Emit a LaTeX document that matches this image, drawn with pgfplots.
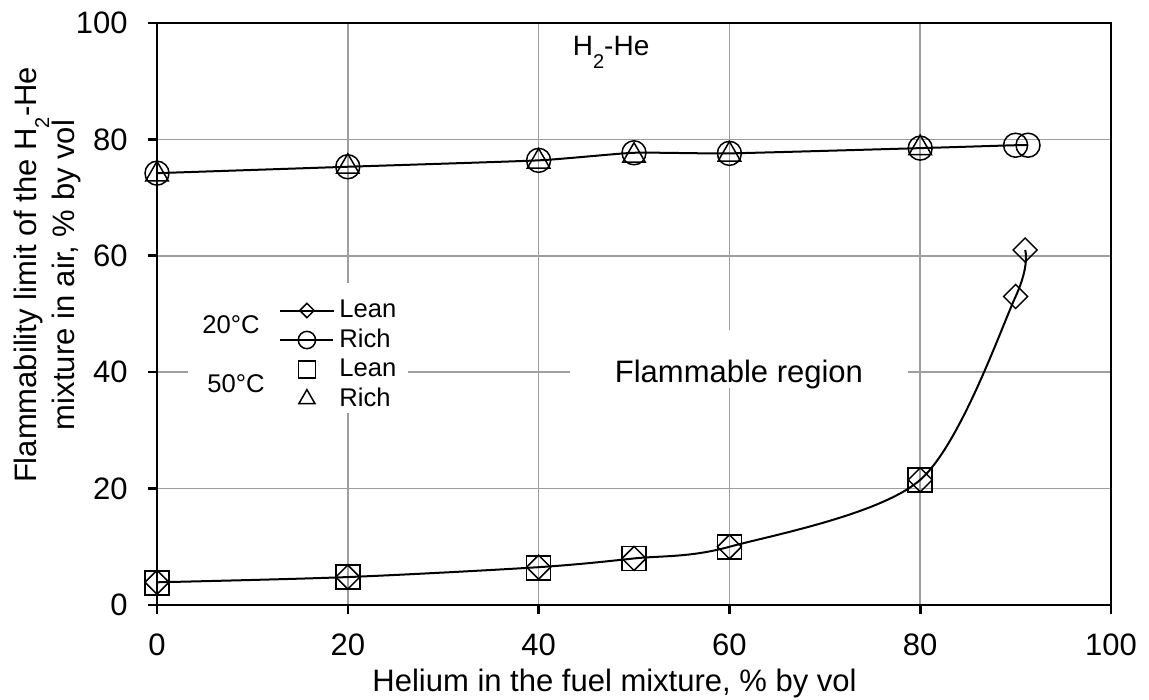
\documentclass[border=0pt]{standalone}
\usepackage{fontspec}
\setmainfont{Liberation Sans}
\usepackage{pgfplots}
\pgfplotsset{compat=1.18}
\newcommand{\subtwo}{\raisebox{-6.5pt}{\fontsize{10}{10}\selectfont 2}}
\begin{document}
\begin{tikzpicture}
\path[use as bounding box] (-78.5pt,-47.5pt) rectangle (496pt,302.5pt);
\begin{axis}[
  at={(0pt,0pt)}, anchor=south west,
  scale only axis, width=477pt, height=291pt,
  xmin=0, xmax=100, ymin=0, ymax=100,
  xtick={0,20,...,100}, ytick={0,20,...,100},
  tick align=outside, xtick pos=bottom, ytick pos=left,
  major tick length=4.5pt,
  grid=major, major grid style={draw=black!38, line width=0.85pt},
  axis line style={line width=1.3pt},
  major tick style={line width=1.3pt, black},
  /pgf/number format/assume math mode=true,
  ticklabel style={font=\fontsize{15.5}{15.5}\selectfont},
  yticklabel style={anchor=east, inner sep=0pt, xshift=-10pt},
  xticklabel style={anchor=base, inner sep=0pt, yshift=-20.5pt},
  xlabel={Helium in the fuel mixture, \% by vol},
  xlabel style={at={(axis description cs:0.4796,-0.1478)}, anchor=base, inner sep=0pt, font=\fontsize{15.5}{15.5}\selectfont},
  ylabel={Flammability limit of the H\subtwo-He\\mixture in air, \% by vol},
  ylabel style={at={(axis description cs:-0.1153,0.567)}, anchor=center, align=center, inner sep=0pt, font=\fontsize{15.5}{19}\selectfont},
  legend style={at={(axis description cs:0.1279,0.529)}, anchor=north west, draw=none, fill=none, inner sep=0pt,
    font=\fontsize{12.8}{12.8}\selectfont, row sep=1.75pt, column sep=2.5pt,
    nodes={inner sep=0pt, text height=10pt, text depth=3pt}},
  legend cell align=left,
  legend image code/.code={\draw[mark repeat=2,mark phase=2,#1, every mark/.append style={scale=0.72}] plot coordinates {(0pt,0pt) (13.25pt,0pt) (26.5pt,0pt)};},
]
\addplot[black, line width=1pt, smooth, mark=square, mark size=4.24pt,
  mark options={rotate=45, solid, line width=0.75pt},
  legend image code/.code={\draw[mark repeat=2,mark phase=2,##1, every mark/.append style={scale=0.6}] plot coordinates {(0pt,0pt) (13.25pt,0pt) (26.5pt,0pt)};}]
  coordinates {(0,3.9) (20,4.8) (40,6.5) (50,8.0) (60,10.0) (80,21.5) (90,53.0) (91,61.0)};
\addlegendentry{Lean}
\addplot[black, line width=1pt, smooth, tension=0.3, mark=o, mark size=6pt, mark options={solid, line width=0.75pt}]
  coordinates {(0,74.2) (20,75.3) (40,76.4) (50,77.7) (60,77.6) (80,78.5) (90,79.0) (91.3,79.0)};
\addlegendentry{Rich}
\addplot[black, only marks, mark=square, mark size=6pt, mark options={line width=0.75pt}]
  coordinates {(0,3.8) (20,4.8) (40,6.4) (50,8.0) (60,10.0) (80,21.5)};
\addlegendentry{Lean}
\addplot[black, only marks, mark=triangle, mark size=6.5pt, mark options={line width=0.75pt}]
  coordinates {(0,74.0) (20,75.3) (40,76.2) (50,77.2) (60,77.4) (80,78.5)};
\addlegendentry{Rich}
\fill[white] (axis cs:3.25,33.0) rectangle (axis cs:26.3,55.3);
\node[font=\fontsize{12.8}{12.8}\selectfont] at (axis cs:7.76,48.1) {20°C};
\node[font=\fontsize{12.8}{12.8}\selectfont] at (axis cs:8.28,37.97) {50°C};
\fill[white] (axis cs:43.3,37.3) rectangle (axis cs:78.7,47.25);
\node[anchor=base, font=\fontsize{15.5}{15.5}\selectfont] at (axis cs:61.0,38.3) {Flammable region};
\node[anchor=base, font=\fontsize{14}{14}\selectfont] at (axis cs:47.6,94.5) {H\subtwo-He};
\end{axis}
\end{tikzpicture}
\end{document}
